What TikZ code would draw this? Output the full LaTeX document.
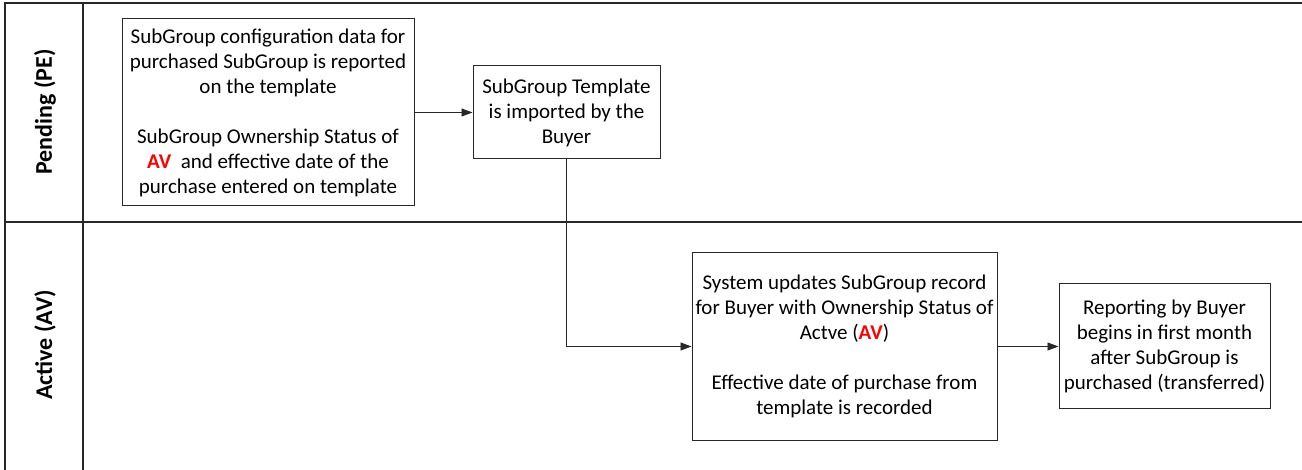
\documentclass[tikz,border=0pt]{standalone}
\usepackage{fontspec}
\setmainfont{Carlito}
\usetikzlibrary{arrows.meta}
\definecolor{avred}{RGB}{255,0,0}
\definecolor{linegray}{RGB}{40,40,40}
\tikzset{
  x=1pt,y=-1pt,
  procbox/.style={draw=linegray,line width=1pt,align=center,inner sep=2pt,
    font=\fontsize{21}{25}\selectfont},
  lane/.style={draw=linegray,line width=1.3pt},
  flow/.style={draw=linegray,line width=0.9pt,-{Triangle[length=11pt,width=8pt]}},
  lanelabel/.style={rotate=90,font=\fontsize{24}{28}\selectfont\bfseries}
}
\newcommand{\redav}{\textcolor{avred}{\textbf{AV}}}
\begin{document}
\begin{tikzpicture}
\useasboundingbox (0,0) rectangle (1302,470);
% lanes frame
\draw[lane] (1302,3) -- (5,3) -- (5,470);
\draw[lane] (83,3) -- (83,470);
\draw[lane] (5,222) -- (1302,222);
\node[lanelabel] (pe) at (45,112) {Pending (PE)};
\node[lanelabel] (av) at (45,345) {Active (AV)};
% boxes
\node[procbox,minimum width=292pt,minimum height=187pt] (b1) at (268,112.5)
 {SubGroup configuration data for\\purchased SubGroup is reported\\on the template\\[25pt]
  SubGroup Ownership Status of\\\redav{}\ \ and effective date of the\\purchase entered on template};
\node[procbox,minimum width=187pt,minimum height=93pt] (b2) at (566.5,112.5)
 {SubGroup Template\\is imported by the\\Buyer};
\node[procbox,minimum width=305pt,minimum height=187pt] (b3) at (844.5,346.5)
 {System updates SubGroup record\\for Buyer with Ownership Status of\\Actve (\redav)\\[25pt]
  Effective date of purchase from\\template is recorded};
\node[procbox,minimum width=211pt,minimum height=125pt] (b4) at (1164.5,346.5)
 {Reporting by Buyer\\begins in first month\\after SubGroup is\\purchased (transferred)};
% connectors
\draw[flow] (b1.east) -- (b2.west);
\draw[flow] (b2.south) |- (b3.west);
\draw[flow] (b3.east) -- (b4.west);
\end{tikzpicture}
\end{document}
